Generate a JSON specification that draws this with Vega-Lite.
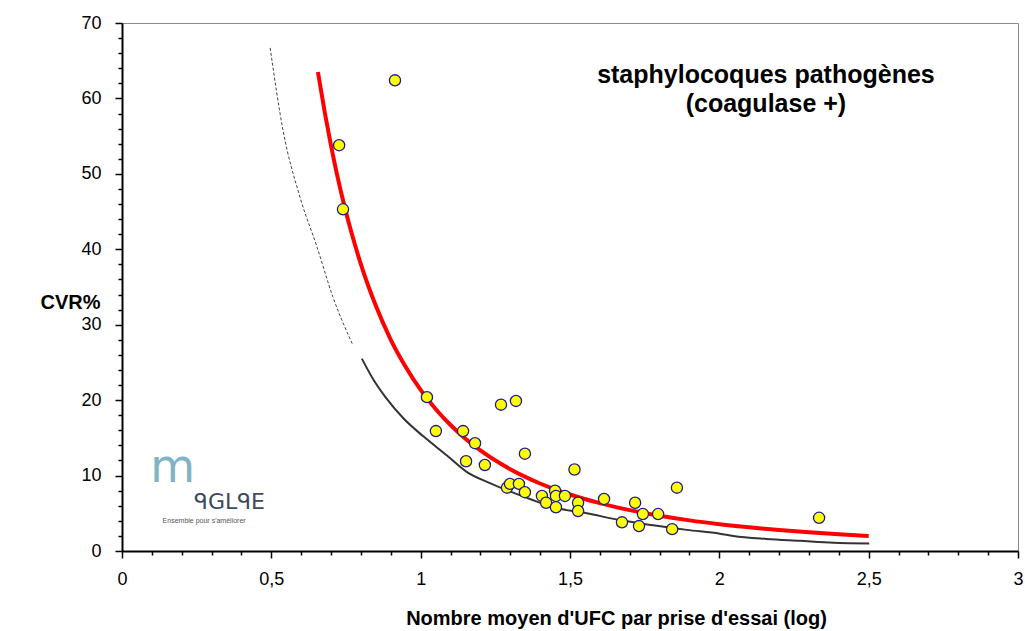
{
  "$schema": "https://vega.github.io/schema/vega-lite/v6.json",
  "width": 896,
  "height": 528,
  "autosize": {"type": "none"},
  "padding": {"left": 122, "top": 23, "right": 7, "bottom": 80},
  "background": "white",
  "config": {"font": "Liberation Sans", "view": {"stroke": "#8c8c8c", "strokeWidth": 1}},
  "datasets": {
    "points": [
      {"x": 0.914, "y": 62.4}, {"x": 0.727, "y": 53.8}, {"x": 0.740, "y": 45.3}, {"x": 1.021, "y": 20.4},
      {"x": 1.051, "y": 15.9}, {"x": 1.142, "y": 15.9}, {"x": 1.152, "y": 11.9}, {"x": 1.182, "y": 14.3},
      {"x": 1.215, "y": 11.4}, {"x": 1.269, "y": 19.4}, {"x": 1.319, "y": 19.9}, {"x": 1.349, "y": 12.9},
      {"x": 1.289, "y": 8.4}, {"x": 1.299, "y": 8.9}, {"x": 1.329, "y": 8.9}, {"x": 1.349, "y": 7.8},
      {"x": 1.406, "y": 7.3}, {"x": 1.420, "y": 6.4}, {"x": 1.450, "y": 8.0}, {"x": 1.453, "y": 7.3},
      {"x": 1.453, "y": 5.8}, {"x": 1.483, "y": 7.3}, {"x": 1.515, "y": 10.8}, {"x": 1.527, "y": 6.4},
      {"x": 1.527, "y": 5.3}, {"x": 1.614, "y": 6.9}, {"x": 1.674, "y": 3.8}, {"x": 1.718, "y": 6.4},
      {"x": 1.731, "y": 3.3}, {"x": 1.744, "y": 4.9}, {"x": 1.795, "y": 4.9}, {"x": 1.842, "y": 2.9},
      {"x": 1.858, "y": 8.4}, {"x": 2.334, "y": 4.4}
    ],
    "red": [
      {"x": 0.656, "y": 63.5}, {"x": 0.68, "y": 57.9}, {"x": 0.70, "y": 53.7}, {"x": 0.72, "y": 49.9},
      {"x": 0.75, "y": 44.9}, {"x": 0.78, "y": 40.6}, {"x": 0.80, "y": 38.0}, {"x": 0.85, "y": 32.5},
      {"x": 0.90, "y": 28.0}, {"x": 0.95, "y": 24.4}, {"x": 1.00, "y": 21.36}, {"x": 1.05, "y": 18.83},
      {"x": 1.10, "y": 16.7}, {"x": 1.15, "y": 14.88}, {"x": 1.20, "y": 13.33}, {"x": 1.30, "y": 10.84},
      {"x": 1.40, "y": 8.95}, {"x": 1.50, "y": 7.49}, {"x": 1.60, "y": 6.34}, {"x": 1.70, "y": 5.42},
      {"x": 1.80, "y": 4.67}, {"x": 1.90, "y": 4.06}, {"x": 2.00, "y": 3.56}, {"x": 2.10, "y": 3.14},
      {"x": 2.20, "y": 2.78}, {"x": 2.30, "y": 2.48}, {"x": 2.40, "y": 2.22}, {"x": 2.50, "y": 2.0}
    ],
    "black": [
      {"x": 0.803, "y": 25.5}, {"x": 0.842, "y": 22.7}, {"x": 0.886, "y": 20.2}, {"x": 0.942, "y": 17.6},
      {"x": 1.009, "y": 15.2}, {"x": 1.087, "y": 12.7}, {"x": 1.154, "y": 10.5}, {"x": 1.232, "y": 9.0},
      {"x": 1.299, "y": 7.9}, {"x": 1.366, "y": 6.9}, {"x": 1.444, "y": 5.8}, {"x": 1.556, "y": 5.0},
      {"x": 1.667, "y": 4.1}, {"x": 1.779, "y": 3.4}, {"x": 1.891, "y": 2.8}, {"x": 2.002, "y": 2.3},
      {"x": 2.047, "y": 2.0}, {"x": 2.158, "y": 1.6}, {"x": 2.270, "y": 1.35}, {"x": 2.382, "y": 1.1},
      {"x": 2.502, "y": 1.0}
    ],
    "dashed": [
      {"x": 0.496, "y": 66.7}, {"x": 0.539, "y": 55.8}, {"x": 0.596, "y": 46.9}, {"x": 0.653, "y": 40.3},
      {"x": 0.706, "y": 33.7}, {"x": 0.773, "y": 27.3}
    ],
    "title": [
      {"x": 2.156, "y": 63.1, "t": "staphylocoques pathogènes"},
      {"x": 2.156, "y": 59.3, "t": "(coagulase +)"}
    ],
    "arch": [
      {"x": 0.17, "y": 11.0, "t": "m"}
    ],
    "logo": [
      {"x": 0.36, "y": 6.5, "t": "ᑫGLᑫE"}
    ],
    "tagline": [
      {"x": 0.275, "y": 4.0, "t": "Ensemble pour s'améliorer"}
    ]
  },
  "encoding": {
    "x": {
      "field": "x", "type": "quantitative",
      "scale": {"domain": [0, 3], "nice": false, "zero": false},
      "axis": {
        "title": "Nombre moyen d'UFC par prise d'essai (log)",
        "values": [0, 0.1, 0.2, 0.3, 0.4, 0.5, 0.6, 0.7, 0.8, 0.9, 1, 1.1, 1.2, 1.3, 1.4, 1.5, 1.6, 1.7, 1.8, 1.9, 2, 2.1, 2.2, 2.3, 2.4, 2.5, 2.6, 2.7, 2.8, 2.9, 3],
        "labelExpr": "abs(datum.value*2-round(datum.value*2))<0.001 ? replace(format(datum.value,'~g'),'.',',') : ''",
        "tickSize": {"condition": {"test": "abs(datum.value*2-round(datum.value*2))<0.001", "value": 7}, "value": 4},
        "grid": false, "domainColor": "black", "domainWidth": 2, "tickColor": "black", "tickWidth": 1.5,
        "labelFontSize": 18, "labelColor": "black", "labelPadding": 12, "labelFlush": false, "labelOverlap": false,
        "titleFontSize": 20, "titleFontWeight": "bold", "titleColor": "black",
        "titleX": 494, "titleY": 67, "titleBaseline": "middle", "titleAlign": "center"
      }
    },
    "y": {
      "field": "y", "type": "quantitative",
      "scale": {"domain": [0, 70], "nice": false},
      "axis": {
        "title": "CVR%",
        "values": [0, 2, 4, 6, 8, 10, 12, 14, 16, 18, 20, 22, 24, 26, 28, 30, 32, 34, 36, 38, 40, 42, 44, 46, 48, 50, 52, 54, 56, 58, 60, 62, 64, 66, 68, 70],
        "labelExpr": "datum.value % 10 === 0 ? datum.label : ''",
        "tickSize": {"condition": {"test": "datum.value % 10 === 0", "value": 7}, "value": 4},
        "grid": false, "domainColor": "black", "domainWidth": 2, "tickColor": "black", "tickWidth": 1.5,
        "labelFontSize": 18, "labelColor": "black", "labelPadding": 14, "labelOverlap": false,
        "titleFontSize": 20, "titleFontWeight": "bold", "titleColor": "black", "titleAngle": 0,
        "titleX": -52, "titleY": 279, "titleAlign": "center", "titleBaseline": "middle"
      }
    }
  },
  "layer": [
    {"data": {"name": "dashed"}, "mark": {"type": "line", "color": "#444444", "strokeWidth": 1, "strokeDash": [3, 2], "interpolate": "monotone"}},
    {"data": {"name": "black"}, "mark": {"type": "line", "color": "#333333", "strokeWidth": 2, "interpolate": "monotone"}},
    {"data": {"name": "red"}, "mark": {"type": "line", "color": "#ff0000", "strokeWidth": 4, "interpolate": "monotone"}},
    {"data": {"name": "points"}, "mark": {"type": "point", "shape": "circle", "filled": true, "size": 125, "fill": "#ffff00", "stroke": "#1c1c8a", "strokeWidth": 1.3, "opacity": 1}},
    {"data": {"name": "title"}, "mark": {"type": "text", "fontSize": 25, "fontWeight": "bold", "color": "black", "align": "center", "baseline": "middle"}, "encoding": {"text": {"field": "t"}}},
    {"data": {"name": "arch"}, "mark": {"type": "text", "fontSize": 46, "color": "#7fb3c6", "align": "center", "baseline": "middle", "font": "DejaVu Sans"}, "encoding": {"text": {"field": "t"}}},
    {"data": {"name": "logo"}, "mark": {"type": "text", "fontSize": 22, "color": "#3b4a5c", "align": "center", "baseline": "middle", "font": "DejaVu Sans"}, "encoding": {"text": {"field": "t"}}},
    {"data": {"name": "tagline"}, "mark": {"type": "text", "fontSize": 7, "color": "#555555", "align": "center", "baseline": "middle"}, "encoding": {"text": {"field": "t"}}}
  ]
}
